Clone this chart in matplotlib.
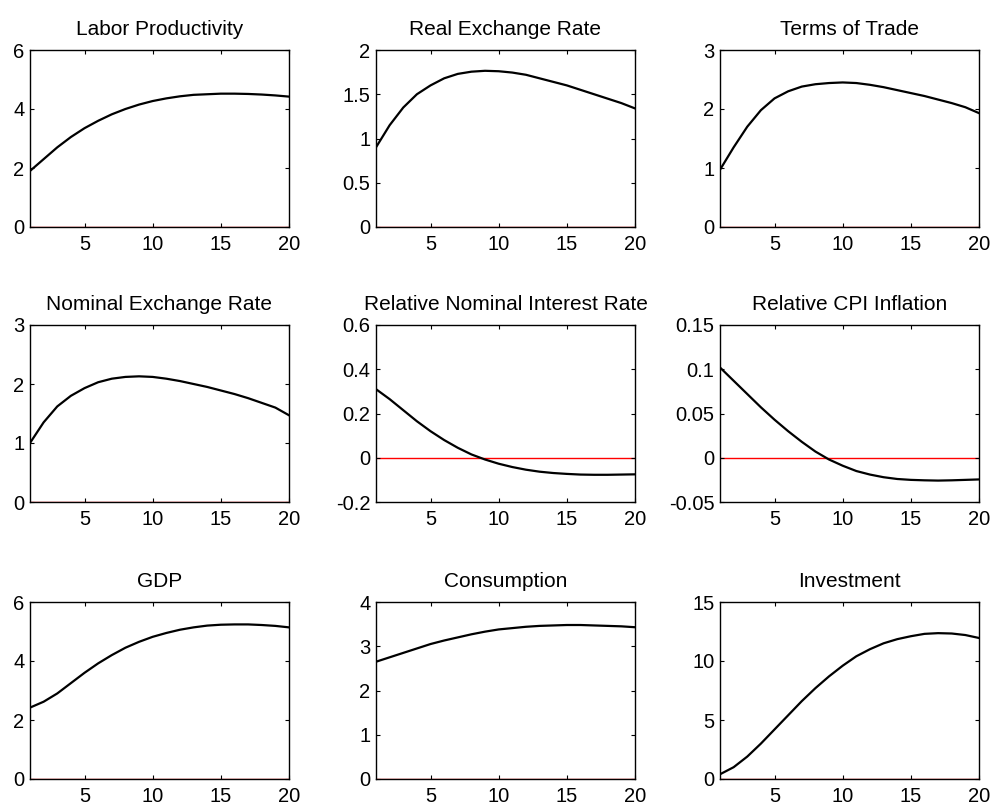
import numpy as np
import matplotlib.pyplot as plt

plt.rcParams['font.family'] = ['Liberation Sans', 'DejaVu Sans']

periods = np.arange(1, 21)

labor_productivity = [1.9, 2.3, 2.7, 3.05, 3.35, 3.6, 3.82, 4.0, 4.15, 4.27,
                      4.36, 4.43, 4.48, 4.5, 4.52, 4.52, 4.51, 4.49, 4.46, 4.42]
real_exchange_rate = [0.9, 1.15, 1.35, 1.5, 1.6, 1.68, 1.73, 1.755, 1.765, 1.76,
                      1.745, 1.72, 1.68, 1.64, 1.6, 1.55, 1.5, 1.45, 1.4, 1.34]
terms_of_trade = [0.97, 1.35, 1.7, 1.98, 2.18, 2.3, 2.38, 2.42, 2.44, 2.45,
                  2.44, 2.41, 2.37, 2.32, 2.27, 2.22, 2.16, 2.1, 2.03, 1.93]
nominal_exchange_rate = [1.0, 1.35, 1.62, 1.8, 1.93, 2.03, 2.09, 2.12, 2.13, 2.12,
                         2.09, 2.05, 2.0, 1.95, 1.89, 1.83, 1.76, 1.68, 1.6, 1.47]
rel_interest_rate = [0.31, 0.265, 0.215, 0.165, 0.12, 0.08, 0.045, 0.015, -0.008, -0.027,
                     -0.042, -0.054, -0.063, -0.069, -0.073, -0.076, -0.077, -0.077, -0.076, -0.075]
rel_cpi_inflation = [0.102, 0.087, 0.072, 0.057, 0.043, 0.03, 0.018, 0.007, -0.002, -0.009,
                     -0.015, -0.019, -0.022, -0.024, -0.025, -0.0255, -0.0258, -0.0255, -0.025, -0.0245]
gdp = [2.42, 2.62, 2.9, 3.25, 3.6, 3.92, 4.2, 4.45, 4.65, 4.82,
       4.95, 5.06, 5.14, 5.2, 5.23, 5.24, 5.24, 5.22, 5.19, 5.14]
consumption = [2.65, 2.75, 2.85, 2.95, 3.05, 3.13, 3.2, 3.27, 3.33, 3.38,
               3.41, 3.44, 3.46, 3.47, 3.48, 3.48, 3.47, 3.46, 3.45, 3.43]
investment = [0.4, 1.0, 1.9, 3.0, 4.2, 5.4, 6.6, 7.7, 8.7, 9.6,
              10.4, 11.0, 11.5, 11.85, 12.1, 12.3, 12.36, 12.33, 12.2, 11.95]

titles = ["Labor Productivity", "Real Exchange Rate", "Terms of Trade",
          "Nominal Exchange Rate", "Relative Nominal Interest Rate", "Relative CPI Inflation",
          "GDP", "Consumption", "Investment"]
series = [labor_productivity, real_exchange_rate, terms_of_trade,
          nominal_exchange_rate, rel_interest_rate, rel_cpi_inflation,
          gdp, consumption, investment]
yticks = [[0, 2, 4, 6], [0, 0.5, 1, 1.5, 2], [0, 1, 2, 3],
          [0, 1, 2, 3], [-0.2, 0, 0.2, 0.4, 0.6], [-0.05, 0, 0.05, 0.1, 0.15],
          [0, 2, 4, 6], [0, 1, 2, 3, 4], [0, 5, 10, 15]]
yticklabels = [["0", "2", "4", "6"], ["0", "0.5", "1", "1.5", "2"], ["0", "1", "2", "3"],
               ["0", "1", "2", "3"], ["-0.2", "0", "0.2", "0.4", "0.6"],
               ["-0.05", "0", "0.05", "0.1", "0.15"],
               ["0", "2", "4", "6"], ["0", "1", "2", "3", "4"], ["0", "5", "10", "15"]]

fig = plt.figure(figsize=(9.94, 8.08), dpi=100)
lefts = [30, 376, 720]
tops = [50, 325, 602]
w, h = 259, 177

for k in range(9):
    r, c = divmod(k, 3)
    ax = fig.add_axes([lefts[c] / 994, 1 - (tops[r] + h) / 808, w / 994, h / 808])
    ax.plot(periods, np.zeros(len(periods)), color='red', lw=1, zorder=1)
    ax.plot(periods, series[k], color='black', lw=1.6, zorder=2)
    ax.set_xlim(1, 20)
    ax.set_ylim(yticks[k][0], yticks[k][-1])
    ax.set_xticks([5, 10, 15, 20])
    ax.set_yticks(yticks[k])
    ax.set_yticklabels(yticklabels[k])
    ax.tick_params(direction='in', top=True, right=True, length=3, width=0.8,
                   labelsize=14.5)
    ax.tick_params(axis='x', pad=6)
    ax.tick_params(axis='y', pad=4)
    for s in ax.spines.values():
        s.set_linewidth(1.0)
    ax.set_title(titles[k], fontsize=15, pad=11)

fig.savefig("out.png", dpi=100)
